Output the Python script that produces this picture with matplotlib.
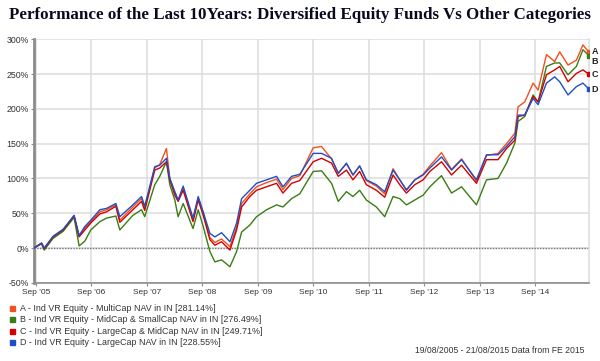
import matplotlib
matplotlib.use("Agg")
import matplotlib.pyplot as plt
import matplotlib.transforms as mtransforms
import pandas as pd

title = "Performance of the Last 10Years: Diversified Equity Funds Vs Other Categories"
footer = "19/08/2005 - 21/08/2015 Data from FE 2015"

dates = [
    "2005-08-19", "2005-10-08", "2005-10-25", "2005-12-23", "2006-02-27", "2006-05-10",
    "2006-06-12", "2006-07-20", "2006-08-28", "2006-10-27", "2006-12-10", "2007-02-09",
    "2007-03-07", "2007-06-01", "2007-07-28", "2007-08-18", "2007-10-23", "2007-11-25",
    "2008-01-08", "2008-01-30", "2008-03-03", "2008-03-25", "2008-04-27", "2008-07-01",
    "2008-08-04", "2008-09-06", "2008-10-20", "2008-11-22", "2009-01-05", "2009-03-01",
    "2009-04-14", "2009-05-17", "2009-07-10", "2009-08-23", "2009-10-28", "2010-01-02",
    "2010-02-13", "2010-04-11", "2010-06-04", "2010-08-31", "2010-10-25", "2010-12-30",
    "2011-02-12", "2011-04-07", "2011-05-20", "2011-07-03", "2011-08-16", "2011-10-21",
    "2011-12-15", "2012-02-08", "2012-03-23", "2012-05-06", "2012-06-30", "2012-08-24",
    "2012-10-07", "2012-12-23", "2013-02-27", "2013-05-04", "2013-08-10", "2013-10-15",
    "2013-12-30", "2014-02-24", "2014-04-20", "2014-05-11", "2014-06-24", "2014-08-18",
    "2014-09-20", "2014-11-14", "2015-01-07", "2015-02-09", "2015-04-05", "2015-05-30",
    "2015-07-12", "2015-08-21",
]

series_a = [0, 7, -1, 16, 26, 46, 17, 29, 38, 52, 55, 62, 40, 59, 71, 57, 115, 120,
            143, 100, 80, 68, 87, 40, 72, 50, 15, 8, 13, 2, 30, 64, 78, 88, 94, 99,
            84, 100, 104, 144, 146, 128, 108, 121, 105, 118, 97, 89, 78, 114, 98, 84,
            98, 106, 118, 137, 113, 128, 96, 133, 136, 150, 165, 203, 210, 237, 227,
            278, 268, 282, 263, 270, 292, 281.14]
series_b = [0, 6, -3, 14, 24, 44, 3, 10, 26, 38, 43, 46, 26, 47, 55, 45, 91, 103,
            124, 91, 69, 45, 64, 28, 55, 31, -5, -20, -17, -27, -5, 23, 33, 45, 55, 62,
            59, 71, 78, 110, 111, 93, 67, 81, 74, 83, 69, 59, 45, 74, 71, 62,
            69, 76, 88, 104, 79, 88, 62, 98, 100, 122, 151, 182, 189, 220, 210,
            261, 266, 266, 249, 261, 285, 276.49]
series_c = [0, 7, -1, 16, 26, 46, 16, 26, 36, 49, 52, 60, 37, 55, 67, 54, 112, 115,
            124, 98, 76, 67, 83, 38, 69, 47, 12, 4, 9, -3, 26, 59, 74, 83, 88, 93,
            79, 93, 97, 124, 129, 122, 103, 112, 98, 110, 91, 83, 73, 105, 91, 79,
            91, 98, 110, 124, 105, 119, 93, 127, 127, 143, 155, 189, 191, 218, 210,
            249, 256, 261, 239, 251, 256, 249.71]
series_d = [0, 7, 0, 17, 27, 47, 18, 31, 40, 55, 57, 64, 45, 62, 74, 60, 117, 119,
            129, 100, 81, 69, 89, 43, 74, 52, 21, 16, 22, 9, 36, 71, 83, 93, 98, 103,
            88, 103, 106, 136, 136, 129, 107, 122, 105, 118, 98, 91, 81, 112, 98, 83,
            98, 105, 115, 131, 112, 127, 98, 134, 134, 146, 160, 191, 191, 215, 206,
            237, 246, 239, 220, 232, 237, 228.55]

letters = ["A", "B", "C", "D"]
legend_labels = [
    "A - Ind VR Equity - MultiCap NAV in IN [281.14%]",
    "B - Ind VR Equity - MidCap & SmallCap NAV in IN [276.49%]",
    "C - Ind VR Equity - LargeCap & MidCap NAV in IN [249.71%]",
    "D - Ind VR Equity - LargeCap NAV in IN [228.55%]",
]
colors = ["#f0501e", "#3a7d12", "#d40000", "#1f4fc4"]
letter_offsets = [1, -9, 0, -1]

y_ticks = [-50, 0, 50, 100, 150, 200, 250, 300]
x_tick_dates = ["2005-09-01", "2006-09-01", "2007-09-01", "2008-09-01", "2009-09-01",
                "2010-09-01", "2011-09-01", "2012-09-01", "2013-09-01", "2014-09-01"]
x_tick_labels = ["Sep '05", "Sep '06", "Sep '07", "Sep '08", "Sep '09",
                 "Sep '10", "Sep '11", "Sep '12", "Sep '13", "Sep '14"]

x = pd.to_datetime(dates)
all_series = [series_a, series_b, series_c, series_d]

W, H = 600, 361
fig = plt.figure(figsize=(W / 100, H / 100), dpi=100)
fig.patch.set_facecolor("white")
ax = fig.add_axes([34 / W, 1 - 282.8 / H, (589 - 34) / W, (282.8 - 39.3) / H])

for s, c in zip(all_series, colors):
    ax.plot(x, s, color=c, lw=1.0, solid_joinstyle="round", zorder=3)
    ax.plot(x[-1:], s[-1:], marker="s", ms=2.2, color=c, lw=0, zorder=4)

ax.set_xlim(x[0], x[-1])
ax.set_ylim(-50, 300)

ax.set_yticks(y_ticks)
ax.set_yticklabels([f"{v}%" for v in y_ticks])
ax.set_xticks(pd.to_datetime(x_tick_dates))
ax.set_xticklabels(x_tick_labels)

ax.grid(True, color="#dcdcdc", lw=1.1, zorder=0)
ax.set_axisbelow(True)
ax.axhline(0, color="#777777", lw=1.0, linestyle=(0, (1, 1)), zorder=2)

ax.spines["top"].set_visible(False)
ax.spines["right"].set_color("#dcdcdc")
ax.spines["right"].set_linewidth(1.1)
ax.spines["left"].set_color("#8c8c8c")
ax.spines["left"].set_linewidth(2.0)
ax.spines["bottom"].set_color("#8c8c8c")
ax.spines["bottom"].set_linewidth(1.2)

ax.tick_params(axis="y", length=2.5, width=0.8, color="#8c8c8c", pad=1,
               labelsize=6.3, labelcolor="#333333")
ax.tick_params(axis="x", length=2.5, width=0.8, color="#8c8c8c", pad=2,
               labelsize=6.0, labelcolor="#333333")
for lbl in ax.get_xticklabels() + ax.get_yticklabels():
    lbl.set_fontfamily("Liberation Sans")

trans = mtransforms.blended_transform_factory(ax.transAxes, ax.transData)
for s, letter, off in zip(all_series, letters, letter_offsets):
    ax.text(1.005, s[-1] + off, letter, transform=trans, ha="left", va="center",
            fontsize=6.5, fontweight="bold", color="#222222",
            fontfamily="Liberation Sans", clip_on=False)

# Title, scaled to span the figure width
t = fig.text(9 / W, 1 - 15 / H, title, fontfamily="Liberation Serif", fontweight="bold",
             fontsize=12, color="#0a0a1e", ha="left", va="center")
fig.canvas.draw()
w = t.get_window_extent(renderer=fig.canvas.get_renderer()).width
t.set_fontsize(12 * 580 / w)

# Legend
for i, (lab, c) in enumerate(zip(legend_labels, colors)):
    yy = 1 - (308.5 + i * 11.3) / H
    fig.patches.append(plt.Rectangle((10 / W, yy - 2.6 / H), 5.2 / W, 5.2 / H,
                                     transform=fig.transFigure, color=c, figure=fig))
    fig.text(20 / W, yy, lab, fontsize=6.4, color="#333333", fontfamily="Liberation Sans",
             ha="left", va="center")

fig.text(584 / W, 1 - 350.5 / H, footer, fontsize=6.2, color="#333333",
         fontfamily="Liberation Sans", ha="right", va="center")

fig.savefig("out.png", dpi=100, facecolor="white")
